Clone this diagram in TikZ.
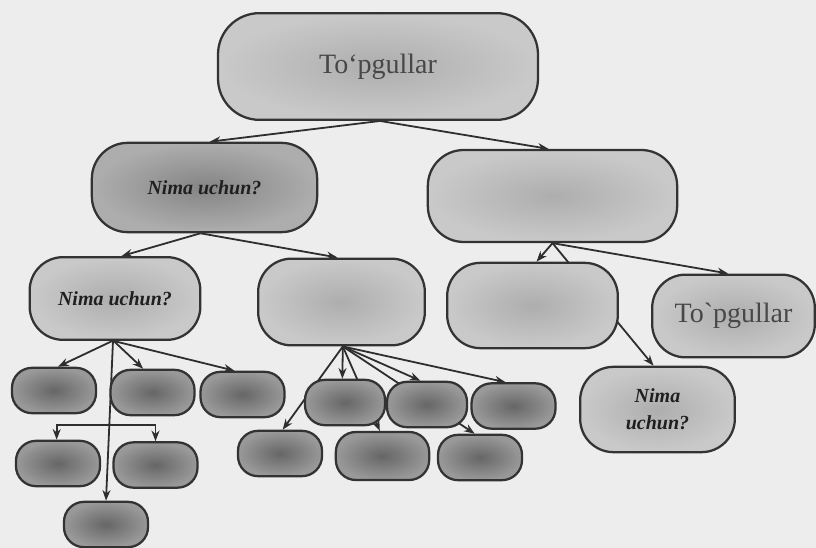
\documentclass[tikz,border=0pt]{standalone}
\usepackage{fontspec}
\setmainfont{Liberation Serif}
\usetikzlibrary{arrows.meta}
\pgfdeclarelayer{bg}
\pgfdeclarelayer{edges}
\pgfsetlayers{bg,edges,main}
\tikzset{
  sz/.style n args={3}{minimum width=#1, minimum height=#2, rounded corners=#3},
  box/.style={draw=black!80, line width=1.7pt, inner sep=0pt, align=center},
  pale/.style={box, shade, inner color=black!32, outer color=black!21},
  mid/.style={box, shade, inner color=black!48, outer color=black!32},
  leaf/.style={box, shade, inner color=black!60, outer color=black!40, sz={63pt}{34pt}{15pt}},
  big/.style={font=\fontsize{21}{23}\selectfont, text=black!72},
  ask/.style={font=\fontsize{15}{20}\selectfont\bfseries\itshape, text=black!88},
  arr/.style={draw=black!82, line width=1.35pt, -{Stealth[length=8pt,width=6pt]}},
  ln/.style={draw=black!82, line width=1.35pt}
}
\begin{document}
\begin{tikzpicture}[x=0.75pt, y=-0.75pt]
\useasboundingbox (0,0) rectangle (816,548);
\begin{pgfonlayer}{bg}
  \fill[black!7] (0,0) rectangle (816,548);
\end{pgfonlayer}

% upper levels
\node[pale, big, sz={240pt}{80pt}{31pt}] (root) at (378,66.5) {To‘pgullar};
\node[mid, ask, sz={169pt}{67pt}{27pt}] (L1a) at (204.5,187.5) {Nima uchun?};
\node[pale, sz={187pt}{69pt}{27pt}] (L1b) at (552.5,196) {};
\node[pale, ask, sz={128pt}{62pt}{25pt}] (L2a) at (115,298.5) {Nima uchun?};
\node[pale, sz={125pt}{65pt}{25pt}] (L2b) at (341.5,302) {};
\node[pale, sz={128pt}{64pt}{25pt}] (L2c) at (532.5,305.5) {};
\node[pale, big, sz={122pt}{62pt}{25pt}] (L2d) at (733.5,316) {To\textasciigrave pgullar};
\node[pale, ask, sz={116pt}{64pt}{25pt}] (L3) at (657.5,409.5) {Nima\\uchun?};

% leaves under L2a
\node[leaf] (a1) at (54,390.5) {};
\node[leaf] (a2) at (152.5,392.5) {};
\node[leaf] (a3) at (242.5,394.5) {};
\node[leaf] (a4) at (58,463.5) {};
\node[leaf] (a5) at (155.5,465) {};
\node[leaf] (a6) at (106,524.5) {};

% leaves under L2b
\node[leaf, minimum width=60pt] (b1) at (345,402.5) {};
\node[leaf, minimum width=60pt] (b2) at (427,404.5) {};
\node[leaf] (b3) at (513.5,406) {};
\node[leaf] (b4) at (280,453.5) {};
\node[leaf, minimum width=70pt, minimum height=36pt] (b5) at (382.5,456) {};
\node[leaf] (b6) at (480,457.5) {};

\coordinate (brk) at (110,425);

\begin{pgfonlayer}{edges}
  \draw[arr] ([xshift=1.5pt]root.south) -- ([xshift=4pt]L1a.north);
  \draw[arr] ([xshift=1.5pt]root.south) -- ([xshift=-3pt]L1b.north);
  \draw[arr] ([xshift=-3pt]L1a.south) -- ([xshift=5pt]L2a.north);
  \draw[arr] ([xshift=-3pt]L1a.south) -- ([xshift=-3pt]L2b.north);
  \draw[arr] (L1b.south) -- ([xshift=3pt]L2c.north);
  \draw[arr] (L1b.south) -- ([xshift=-3pt]L3.north);
  \draw[arr] (L1b.south) -- ([xshift=-4pt]L2d.north);
  \draw[arr] ([xshift=-2pt]L2a.south) -- ([xshift=3pt]a1.north);
  \draw[arr] ([xshift=-1pt]L2a.south) -- ([xshift=-7pt]a2.north);
  \draw[arr] ([xshift=-1pt]L2a.south) -- ([xshift=-6pt]a3.north);
  \draw[arr] ([xshift=-1.5pt]L2a.south) -- (a6.north);
  \draw[arr] (brk) -| ([xshift=-1pt]a4.north);
  \draw[arr] (brk) -| (a5.north);
  \draw[arr] ([xshift=1pt]L2b.south) -- ([xshift=-2pt]b1.north);
  \draw[arr] ([xshift=1pt]L2b.south) -- ([xshift=2pt]b4.north);
  \draw[arr] ([xshift=1pt]L2b.south) -- ([xshift=-5pt]b2.north);
  \draw[arr] ([xshift=1pt]L2b.south) -- ([xshift=-6pt]b3.north);
  \draw[arr] ([xshift=1pt]L2b.south) -- ([xshift=-2pt]b5.north);
  \draw[arr] ([xshift=1pt]L2b.south) -- ([xshift=-4pt]b6.north);
\end{pgfonlayer}
\end{tikzpicture}
\end{document}
